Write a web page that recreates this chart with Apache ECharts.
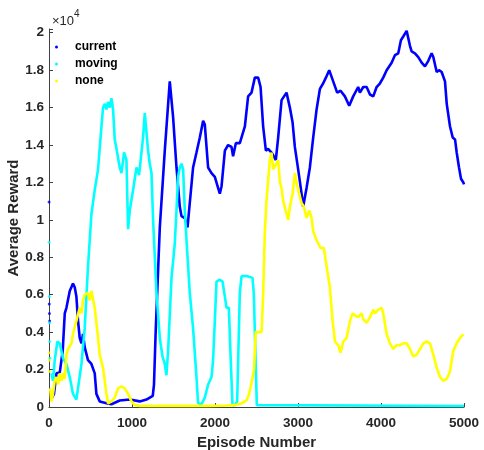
<!DOCTYPE html>
<html>
<head>
<meta charset="utf-8">
<script src="https://cdn.jsdelivr.net/npm/echarts@6/dist/echarts.min.js"></script>
<style>html,body{margin:0;padding:0;background:#fff}#c{width:484px;height:450px}</style>
</head>
<body>
<div id="c"></div>
<script>
const seriesNames = ['current', 'moving', 'none'];
const xTicks = [0, 1000, 2000, 3000, 4000, 5000];
const yTicks = [0, 2000, 4000, 6000, 8000, 10000, 12000, 14000, 16000, 18000, 20000];

const currentStartEp = [1, 3, 5, 8];
const currentStartVal = [10950, 5500, 5000, 4600];
const currentEp = [29,60,90,130,150,165,190,210,250,289,310,330,350,370,391,410,430,470,511,551,571,611,692,752,852,973,1094,1174,1250,1265,1285,1335,1395,1455,1495,1536,1576,1596,1636,1669,1696,1736,1777,1817,1857,1877,1917,1958,1998,2038,2058,2079,2119,2158,2199,2218,2251,2299,2360,2399,2440,2480,2520,2549,2580,2613,2640,2681,2733,2761,2802,2862,2902,2935,2962,3002,3043,3062,3103,3143,3183,3224,3264,3304,3336,3376,3424,3472,3513,3565,3617,3665,3725,3746,3786,3827,3867,3907,3947,3988,4027,4068,4087,4128,4168,4208,4240,4268,4289,4309,4349,4369,4409,4449,4490,4530,4570,4610,4630,4671,4699,4731,4771,4792,4831,4864,4892,4912,4940,4964,4992,5000];
const currentVal = [430,700,1800,1850,1750,3000,5000,5300,6200,6600,6400,5900,4600,3700,3400,3900,3200,2500,2300,1800,700,300,200,150,350,400,300,400,600,1200,4000,9600,13700,17400,15500,12800,10700,10200,10100,9600,10900,12800,13600,14400,15300,15100,12800,12500,12300,11700,11400,11800,13700,14000,13900,13400,14100,14100,15000,16600,16800,17600,17600,17100,15000,13700,13800,13600,13200,14400,16400,16800,16000,15200,13900,12700,11400,10700,11700,12800,14400,15900,17000,17300,17600,18000,17400,16800,16900,16600,16100,16600,17100,16800,17100,17100,16700,16600,17100,17300,17600,18000,17900,18400,18800,18900,19600,19800,19700,20100,19300,19000,18900,18700,18400,18200,18500,18900,18700,17900,18000,17900,17400,16200,15000,14400,14300,13600,12800,12200,12000,11900];

const movingStartEp = [1, 3, 5, 8, 12];
const movingStartVal = [8800, 5900, 4500, 3500, 2600];
const movingEp = [29,48,69,101,129,169,210,250,289,330,350,391,430,470,511,551,591,632,651,672,692,711,732,752,772,792,813,852,873,904,933,953,973,1013,1054,1085,1133,1154,1194,1214,1235,1254,1295,1335,1367,1395,1415,1435,1476,1515,1536,1555,1576,1596,1616,1636,1657,1696,1736,1777,1796,1837,1877,1917,1958,1977,1998,2018,2058,2091,2119,2139,2167,2187,2211,2239,2267,2299,2320,2380,2452,2468,2504,2515,5000];
const movingVal = [1800,1400,2500,3500,3400,2600,2300,1600,700,400,500,2300,4200,7500,10300,11600,12700,15000,16000,16200,15900,16300,16000,16500,15900,14300,13800,12800,12500,13600,13200,9500,10500,11600,12800,12400,14400,15700,13700,13000,12500,10000,6100,3700,2700,2300,1700,3000,6900,8700,10500,12300,12800,13000,12700,10500,8900,6100,4200,1600,200,150,500,1200,1600,2500,4600,6700,6800,6700,5900,5300,5300,2800,100,100,300,6100,7000,7000,6900,6000,100,50,50];

const noneStartEp = [1, 4, 8];
const noneStartVal = [2900, 2500, 1900];
const noneEp = [14,29,48,69,89,109,129,150,169,190,210,229,270,289,330,370,391,410,430,470,491,511,551,591,611,651,672,692,711,752,792,832,873,913,953,993,1033,1094,1300,1600,1900,2100,2239,2320,2380,2411,2440,2470,2490,2561,2580,2600,2620,2640,2661,2681,2701,2721,2761,2782,2802,2822,2842,2882,2902,2935,2962,2983,3014,3043,3071,3103,3135,3164,3183,3224,3244,3272,3312,3345,3384,3417,3445,3485,3513,3545,3586,3626,3658,3686,3726,3766,3786,3827,3867,3907,3927,3967,4008,4027,4068,4108,4148,4189,4229,4268,4309,4349,4389,4430,4470,4510,4550,4590,4630,4671,4711,4751,4792,4831,4871,4912,4952,4992,5000];
const noneVal = [1000,300,700,1400,1600,1200,1800,1400,1800,1500,2800,3100,3400,3900,4600,5300,5000,5700,6000,6100,5700,6200,5300,3700,2800,2100,1400,700,200,300,500,1000,1100,1000,700,300,100,60,70,60,60,70,100,200,350,700,1300,2000,4000,4000,6000,9300,11000,12100,13200,13600,12700,12700,13200,12000,11700,11000,10900,10000,10700,11400,12500,12000,11400,10900,10700,10100,10500,10100,9400,8900,9000,8500,8500,7500,6400,4600,3500,3300,2900,3500,3700,4600,5000,4900,4800,5000,4700,4500,4800,5200,5000,5200,5300,5000,3900,3400,3100,3300,3300,3400,3400,3100,2700,2800,3100,3400,3500,3400,2800,2100,1600,1400,1500,1900,3000,3400,3700,3900,3900];

const colors = ['#0000ff', '#00ffff', '#ffff00'];
const zip = (a, b) => a.map((v, i) => [v, b[i]]);
const lineData = [zip(currentEp, currentVal), zip(movingEp, movingVal), zip(noneEp, noneVal)];
const startData = [zip(currentStartEp, currentStartVal), zip(movingStartEp, movingStartVal), zip(noneStartEp, noneStartVal)];

const axisColor = '#404040';
const font = 'Liberation Sans, Arial, Helvetica, sans-serif';

const series = [];
seriesNames.forEach((n, i) => {
  series.push({
    name: n, type: 'line', data: lineData[i], showSymbol: false, symbol: 'circle', symbolSize: 3,
    lineStyle: { color: colors[i], width: 2.6 }, itemStyle: { color: colors[i] },
    z: 2 + i, animation: false, clip: true
  });
});
seriesNames.forEach((n, i) => {
  series.push({
    name: n, type: 'scatter', data: startData[i], symbol: 'circle', symbolSize: 3,
    itemStyle: { color: colors[i] }, z: 2 + i, animation: false
  });
});

const chart = echarts.init(document.getElementById('c'), null, { renderer: 'canvas' });
chart.setOption({
  backgroundColor: '#ffffff',
  animation: false,
  grid: { left: 49, right: 20, top: 29, bottom: 43, containLabel: false, outerBoundsMode: 'none' },
  legend: {
    data: seriesNames, orient: 'vertical', left: 50, top: 35, itemGap: 3,
    icon: 'circle', itemWidth: 3, itemHeight: 3,
    textStyle: { fontFamily: font, fontWeight: 'bold', fontSize: 12, color: '#000', padding: [0, 0, 0, 12], lineHeight: 14 }
  },
  xAxis: {
    type: 'value', min: xTicks[0], max: xTicks[xTicks.length - 1], interval: 1000,
    name: 'Episode Number', nameLocation: 'middle', nameGap: 28, nameMoveOverlap: false,
    nameTextStyle: { fontFamily: font, fontWeight: 'bold', fontSize: 15, color: '#262626' },
    axisLine: { show: true, lineStyle: { color: axisColor, width: 1 } },
    axisTick: { show: true, inside: true, length: 4, lineStyle: { color: axisColor } },
    axisLabel: { fontFamily: font, fontWeight: 'bold', fontSize: 13.5, color: '#262626', margin: 9, formatter: v => String(v) },
    splitLine: { show: false }
  },
  yAxis: {
    type: 'value', min: yTicks[0], max: 20200, interval: 2000,
    name: 'Average Reward', nameLocation: 'middle', nameGap: 28, nameRotate: 90, nameMoveOverlap: false,
    nameTextStyle: { fontFamily: font, fontWeight: 'bold', fontSize: 15, color: '#262626' },
    axisLine: { show: true, lineStyle: { color: axisColor, width: 1 } },
    axisTick: { show: true, inside: true, length: 4, lineStyle: { color: axisColor } },
    axisLabel: {
      fontFamily: font, fontWeight: 'bold', fontSize: 13.5, color: '#262626', margin: 5,
      formatter: v => (yTicks.indexOf(v) >= 0 ? String(+(v / 10000).toFixed(1)) : '')
    },
    splitLine: { show: false }
  },
  graphic: [{
    type: 'text', left: 52, top: 9,
    style: {
      text: '{a|×10}{b|4}', fill: '#262626',
      rich: {
        a: { fontFamily: font, fontSize: 13, fill: '#262626', verticalAlign: 'bottom', padding: [6, 0, 0, 0] },
        b: { fontFamily: font, fontSize: 10, fill: '#262626', verticalAlign: 'top' }
      }
    }
  }],
  series: series
});
</script>
</body>
</html>
